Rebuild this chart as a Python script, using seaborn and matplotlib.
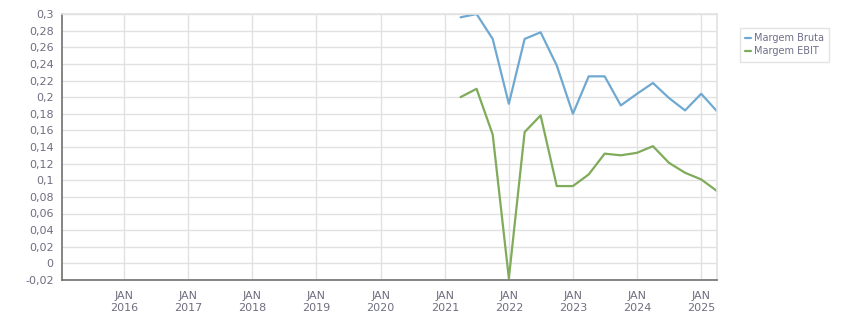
import matplotlib
matplotlib.use("Agg")
import matplotlib.pyplot as plt
import seaborn as sns
import pandas as pd
import numpy as np

quarters = ["2021-04-01", "2021-07-01", "2021-10-01", "2022-01-01", "2022-04-01",
            "2022-07-01", "2022-10-01", "2023-01-01", "2023-04-01", "2023-07-01",
            "2023-10-01", "2024-01-01", "2024-04-01", "2024-07-01", "2024-10-01",
            "2025-01-01", "2025-04-01"]
margem_bruta = [0.296, 0.300, 0.270, 0.192, 0.270, 0.278, 0.238, 0.180, 0.225, 0.225,
                0.190, 0.204, 0.217, 0.199, 0.184, 0.204, 0.183]
margem_ebit = [0.200, 0.210, 0.155, -0.018, 0.158, 0.178, 0.093, 0.093, 0.107, 0.132,
               0.130, 0.133, 0.141, 0.121, 0.109, 0.101, 0.087]
series_names = ["Margem Bruta", "Margem EBIT"]
colors = ["#6fa9d1", "#7fab5b"]

df = pd.DataFrame({
    "date": pd.to_datetime(quarters * 2),
    "value": margem_bruta + margem_ebit,
    "serie": [series_names[0]] * len(quarters) + [series_names[1]] * len(quarters),
})

sns.set_theme(style="white")
plt.rcParams["font.family"] = ["DejaVu Sans"]

fig = plt.figure(figsize=(8.51, 3.13), dpi=100)
ax = fig.add_axes([62 / 851, 1 - 280 / 313, (717 - 62) / 851, (280 - 14) / 313])

sns.lineplot(data=df, x="date", y="value", hue="serie", palette=colors, ax=ax,
             linewidth=1.6, legend=True)

ax.set_xlim(pd.Timestamp("2015-01-12"), pd.Timestamp("2025-04-01"))
ax.set_ylim(-0.02, 0.3)
yt = np.round(np.arange(-0.02, 0.3001, 0.02), 2)
ax.set_yticks(yt)
ax.set_yticklabels([("%g" % v).replace(".", ",") for v in yt])
years = list(range(2016, 2026))
ax.set_xticks([pd.Timestamp(f"{y}-01-01") for y in years])
ax.set_xticklabels([f"JAN\n{y}" for y in years])

ax.grid(True, color="#e1e1e1", linewidth=1)
ax.set_axisbelow(True)
ax.set_xlabel("")
ax.set_ylabel("")
for s in ["top", "right"]:
    ax.spines[s].set_color("#e1e1e1")
    ax.spines[s].set_linewidth(1.2)
for s in ["left", "bottom"]:
    ax.spines[s].set_color("#707070")
    ax.spines[s].set_linewidth(1.2)
ax.tick_params(axis="both", which="both", direction="out", length=4, width=1,
               color="#707070", labelcolor="#6e6e80", labelsize=8, pad=2)
ax.tick_params(axis="x", length=5, pad=3)

leg = ax.legend(loc="upper left", bbox_to_anchor=(740 / 851, 1 - 28 / 313),
                bbox_transform=fig.transFigure, frameon=True, fontsize=7,
                handlelength=0.6, handletextpad=0.3, borderpad=0.55,
                labelspacing=0.3, fancybox=False, borderaxespad=0)
leg.get_frame().set_edgecolor("#dcdcdc")
leg.get_frame().set_linewidth(1)
for t in leg.get_texts():
    t.set_color("#6e6e8a")

fig.savefig("out.png", dpi=100)
